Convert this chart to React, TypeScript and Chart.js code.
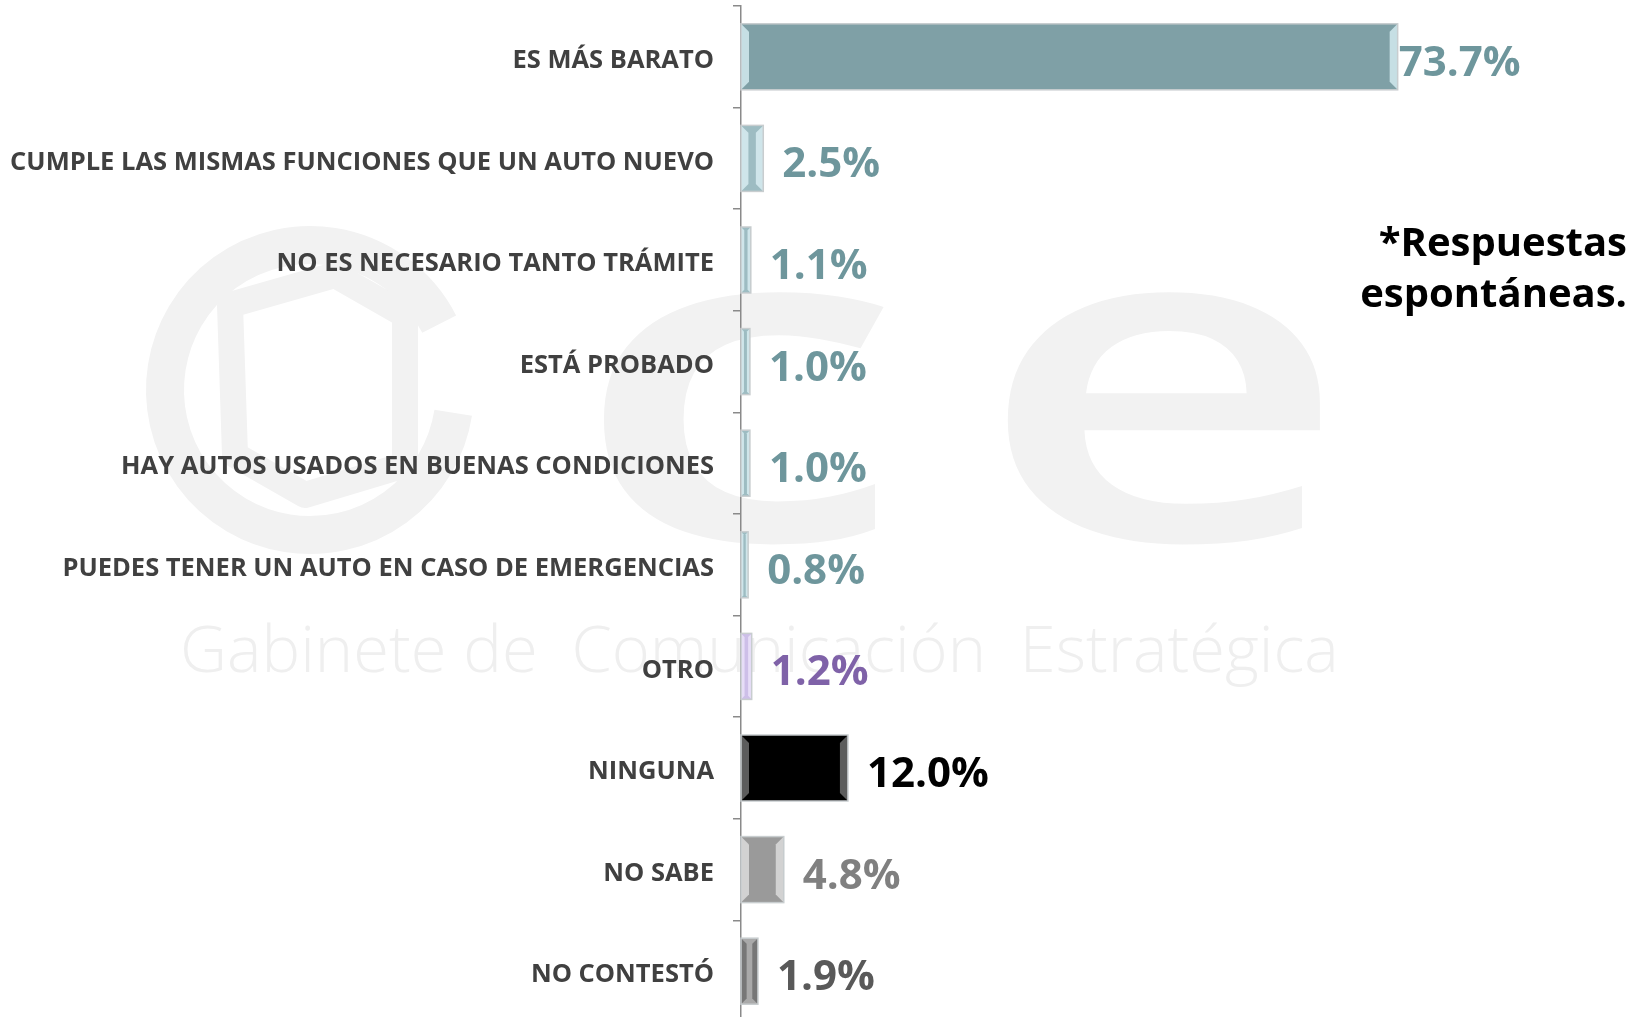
import React, { useEffect, useRef } from "react";
import { Chart, registerables } from "chart.js";

Chart.register(...registerables);

const categories = [
  "ES MÁS BARATO",
  "CUMPLE LAS MISMAS FUNCIONES QUE UN AUTO NUEVO",
  "NO ES NECESARIO TANTO TRÁMITE",
  "ESTÁ PROBADO",
  "HAY AUTOS USADOS EN BUENAS CONDICIONES",
  "PUEDES TENER UN AUTO EN CASO DE EMERGENCIAS",
  "OTRO",
  "NINGUNA",
  "NO SABE",
  "NO CONTESTÓ",
];
const values = [73.7, 2.5, 1.1, 1.0, 1.0, 0.8, 1.2, 12.0, 4.8, 1.9];
const noteLines = ["*Respuestas", "espontáneas."];
const watermarkSub = "Gabinete de  Comunicación  Estratégica";

const fillColors = ["#7fa0a6", "#9dbcc2", "#9dbcc2", "#9dbcc2", "#9dbcc2", "#9dbcc2", "#cdbfe8", "#000000", "#9a9a9a", "#a9a9a9"];
const bevelColors = ["#c6dfe4", "#cfe5ea", "#cfe5ea", "#cfe5ea", "#cfe5ea", "#cfe5ea", "#e6ddf7", "#5c5c5c", "#d2d2d2", "#777777"];
const labelColors = ["#6e969c", "#6e969c", "#6e969c", "#6e969c", "#6e969c", "#6e969c", "#7f62a8", "#000000", "#808080", "#595959"];

const FONT = "'Open Sans', 'Liberation Sans', sans-serif";

const decorPlugin = {
  id: "decor",
  beforeDraw(chart: any) {
    const ctx = chart.ctx;
    ctx.save();
    // faint watermark logo
    ctx.strokeStyle = "#f2f2f2";
    ctx.lineWidth = 38;
    ctx.beginPath();
    ctx.arc(310, 390, 145, Math.PI * 0.05, Math.PI * 1.85);
    ctx.stroke();
    ctx.lineWidth = 26;
    ctx.lineJoin = "round";
    ctx.beginPath();
    ctx.moveTo(230, 305);
    ctx.lineTo(335, 275);
    ctx.lineTo(405, 315);
    ctx.lineTo(405, 465);
    ctx.lineTo(305, 495);
    ctx.lineTo(235, 455);
    ctx.closePath();
    ctx.stroke();
    ctx.fillStyle = "#f2f2f2";
    ctx.font = `600 450px ${FONT}`;
    ctx.textBaseline = "alphabetic";
    ctx.textAlign = "left";
    ctx.save();
    ctx.translate(570, 540);
    ctx.scale(1.5, 1);
    ctx.fillText("c", 0, 0);
    ctx.restore();
    ctx.save();
    ctx.translate(975, 540);
    ctx.scale(1.45, 1);
    ctx.fillText("e", 0, 0);
    ctx.restore();
    ctx.font = `300 65px ${FONT}`;
    ctx.fillStyle = "#efefef";
    ctx.fillText(watermarkSub, 180, 672);
    ctx.restore();
  },
  afterDatasetsDraw(chart: any) {
    const ctx = chart.ctx;
    const meta = chart.getDatasetMeta(0);
    ctx.save();
    meta.data.forEach((bar: any, i: number) => {
      const left = Math.min(bar.base, bar.x);
      const right = Math.max(bar.base, bar.x);
      const top = bar.y - bar.height / 2;
      const bottom = bar.y + bar.height / 2;
      const w = right - left;
      const b = Math.min(8, w / 3);
      ctx.fillStyle = bevelColors[i];
      ctx.beginPath();
      ctx.moveTo(left, top);
      ctx.lineTo(left + b, top + b);
      ctx.lineTo(left + b, bottom - b);
      ctx.lineTo(left, bottom);
      ctx.closePath();
      ctx.fill();
      ctx.beginPath();
      ctx.moveTo(right, top);
      ctx.lineTo(right - b, top + b);
      ctx.lineTo(right - b, bottom - b);
      ctx.lineTo(right, bottom);
      ctx.closePath();
      ctx.fill();
      ctx.strokeStyle = "#c8cdcf";
      ctx.lineWidth = 1.5;
      ctx.strokeRect(left, top, w, bottom - top);
      ctx.fillStyle = labelColors[i];
      ctx.font = `bold 42px ${FONT}`;
      ctx.textAlign = "left";
      ctx.textBaseline = "middle";
      ctx.fillText(values[i].toFixed(1) + "%", right + (i === 0 ? 1 : 19), bar.y + 7);
    });
    ctx.fillStyle = "#000";
    ctx.font = `bold 40px ${FONT}`;
    ctx.textAlign = "right";
    ctx.textBaseline = "alphabetic";
    ctx.fillText(noteLines[0], 1627, 256);
    ctx.fillText(noteLines[1], 1627, 307);
    ctx.restore();
  },
};

export default function App() {
  const ref = useRef<HTMLCanvasElement | null>(null);
  useEffect(() => {
    document.body.style.margin = "0";
    document.body.style.overflow = "hidden";
    const chart = new Chart(ref.current as HTMLCanvasElement, {
      type: "bar",
      data: {
        labels: categories,
        datasets: [
          {
            data: values,
            backgroundColor: fillColors,
            borderWidth: 0,
            barPercentage: 0.65,
            categoryPercentage: 1,
          },
        ],
      },
      options: {
        indexAxis: "y",
        animation: false,
        responsive: false,
        maintainAspectRatio: false,
        layout: { padding: { top: 6, right: 19, left: 0, bottom: 0 } },
        plugins: { legend: { display: false }, tooltip: { enabled: false } },
        scales: {
          x: { display: false, min: 0, max: 100 },
          y: {
            afterFit: (s: any) => {
              s.width = 741;
              s.paddingTop = 0;
              s.paddingBottom = 0;
            },
            border: { display: true, color: "#8a8a8a", width: 1.5 },
            grid: {
              display: true,
              offset: true,
              drawOnChartArea: false,
              drawTicks: true,
              tickLength: 8,
              color: "#8a8a8a",
              lineWidth: 1.5,
            },
            ticks: {
              padding: 19,
              labelOffset: 4,
              color: "#404040",
              font: { family: FONT, weight: "bold", size: 25.5 },
            },
          },
        },
      },
      plugins: [decorPlugin],
    } as any);
    return () => chart.destroy();
  }, []);
  return (
    <div style={{ position: "fixed", left: 0, top: 0, width: 1651, height: 1017, overflow: "hidden", background: "#fff" }}>
      <canvas ref={ref} width={1651} height={1022} style={{ display: "block" }} />
    </div>
  );
}
